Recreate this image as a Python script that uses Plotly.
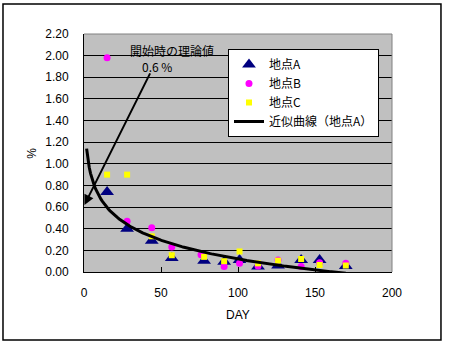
import numpy as np
import plotly.graph_objects as go

# ---- data ----
days = [15, 28, 44, 57, 78, 91, 101, 113, 126, 141, 153, 170]
site_a = [0.74, 0.40, 0.29, 0.13, 0.105, 0.095, 0.11, 0.05, 0.06, 0.11, 0.11, 0.055]
days_b = [15, 28, 44, 57, 76, 91, 101, 113, 126, 141, 153, 170]
site_b = [1.98, 0.47, 0.41, 0.23, 0.16, 0.05, 0.08, 0.055, 0.11, 0.05, 0.085, 0.08]
days_c = [15, 28, 44, 57, 78, 91, 101, 113, 126, 141, 153, 170]
site_c = [0.90, 0.90, 0.33, 0.155, 0.14, 0.10, 0.19, 0.08, 0.105, 0.12, 0.065, 0.06]
y_ticks = [0.0, 0.2, 0.4, 0.6, 0.8, 1.0, 1.2, 1.4, 1.6, 1.8, 2.0, 2.2]
x_ticks = [0, 50, 100, 150, 200]
names = ["地点A", "地点B", "地点C", "近似曲線（地点A）"]
note_text = "開始時の理論値<br>　0.6 %"
theory_value = 0.6

# logarithmic trend line fitted to site A
a, b = np.polyfit(np.log(days), site_a, 1)
trend_x = np.linspace(1.7, 170, 200)
trend_y = a * np.log(trend_x) + b

FONT = "Liberation Sans, Arial, Noto Sans CJK JP, sans-serif"
JFONT = "Noto Sans CJK JP, sans-serif"

fig = go.Figure()
fig.add_trace(go.Scatter(x=days, y=site_a, mode="markers", name=names[0],
                         marker=dict(symbol="triangle-up", size=12, color="#000080")))
fig.add_trace(go.Scatter(x=days_b, y=site_b, mode="markers", name=names[1],
                         marker=dict(symbol="circle", size=7, color="#FF00FF")))
fig.add_trace(go.Scatter(x=days_c, y=site_c, mode="markers", name=names[2],
                         marker=dict(symbol="square", size=6, color="#FFFF00")))
fig.add_trace(go.Scatter(x=trend_x, y=trend_y, mode="lines", name=names[3],
                         line=dict(color="black", width=3)))

fig.update_layout(
    width=450, height=344,
    margin=dict(l=84, r=58, t=34, b=72),
    paper_bgcolor="white", plot_bgcolor="#C0C0C0",
    font=dict(family=FONT, size=12, color="black"),
    showlegend=True,
    legend=dict(x=0.4675, y=0.937, xanchor="left", yanchor="top",
                bgcolor="white", bordercolor="black", borderwidth=1,
                font=dict(family=JFONT, size=12), tracegroupgap=0,
                itemwidth=30),
    xaxis=dict(range=[0, 200], tickvals=x_ticks, ticktext=[str(v) for v in x_ticks],
               showgrid=False, zeroline=False, showline=True, linecolor="black", linewidth=1,
               ticks="inside", ticklen=5, tickcolor="black", ticklabelstandoff=10,
               tickfont=dict(size=12)),
    yaxis=dict(range=[0, 2.2], tickvals=y_ticks, ticktext=[f"{v:.2f}" for v in y_ticks],
               showgrid=True, gridcolor="black", gridwidth=1, zeroline=False,
               showline=True, linecolor="black", linewidth=1,
               ticks="inside", ticklen=4, tickcolor="black", ticklabelstandoff=12,
               tickfont=dict(size=12)),
    shapes=[
        # plot area border (top/right grey)
        dict(type="line", xref="paper", yref="paper", x0=0, x1=1, y0=1, y1=1,
             line=dict(color="#808080", width=1)),
        dict(type="line", xref="paper", yref="paper", x0=1, x1=1, y0=0, y1=1,
             line=dict(color="#808080", width=1)),
        # outer chart frame
        dict(type="rect", xref="paper", yref="paper",
             x0=-0.263, x1=1.159, y0=-0.286, y1=1.126,
             line=dict(color="black", width=1.5), fillcolor="rgba(0,0,0,0)"),
    ],
    annotations=[
        dict(x=0.3, y=theory_value + 0.02, xref="x", yref="y", ax=43.4, ay=1.85,
             axref="x", ayref="y", text="", showarrow=True, arrowhead=2,
             arrowsize=1.0, arrowwidth=2, arrowcolor="black", standoff=0, startstandoff=0),
        dict(x=28.6, y=1.975, xref="x", yref="y", text=note_text, showarrow=False,
             align="left", font=dict(family=JFONT, size=12),
             xanchor="left", yanchor="middle"),
        dict(x=0.5, y=-0.181, xref="paper", yref="paper", text="DAY", showarrow=False,
             font=dict(family=FONT, size=12), xanchor="center", yanchor="middle"),
        dict(x=-0.170, y=0.5, xref="paper", yref="paper", text="%", showarrow=False,
             textangle=-90, font=dict(family=FONT, size=12), xanchor="center", yanchor="middle"),
    ],
)

fig.write_html("out.html")
